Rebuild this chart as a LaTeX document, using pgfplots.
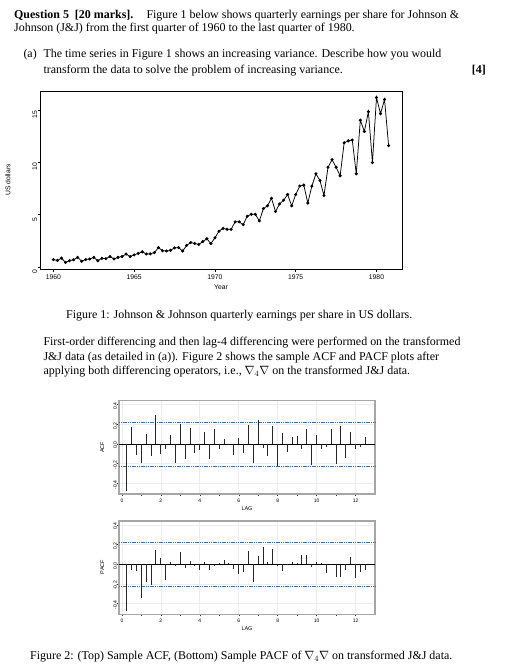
\documentclass[border=0pt]{standalone}
\usepackage{fontspec}
\setmainfont{Liberation Serif}
\newfontfamily\rsans{Liberation Sans}
\usepackage{pgfplots}
\usepackage{pgfplotstable}
\pgfplotsset{compat=1.18}
\definecolor{ciblue}{RGB}{40,110,215}

\pgfplotstableread{
t y
1960.00 0.71
1960.25 0.63
1960.50 0.85
1960.75 0.44
1961.00 0.61
1961.25 0.69
1961.50 0.92
1961.75 0.55
1962.00 0.72
1962.25 0.77
1962.50 0.92
1962.75 0.60
1963.00 0.83
1963.25 0.80
1963.50 1.00
1963.75 0.77
1964.00 0.92
1964.25 1.00
1964.50 1.24
1964.75 1.00
1965.00 1.16
1965.25 1.30
1965.50 1.45
1965.75 1.25
1966.00 1.26
1966.25 1.38
1966.50 1.86
1966.75 1.56
1967.00 1.53
1967.25 1.59
1967.50 1.83
1967.75 1.86
1968.00 1.53
1968.25 2.07
1968.50 2.34
1968.75 2.25
1969.00 2.16
1969.25 2.43
1969.50 2.70
1969.75 2.25
1970.00 2.79
1970.25 3.42
1970.50 3.69
1970.75 3.60
1971.00 3.60
1971.25 4.32
1971.50 4.32
1971.75 4.05
1972.00 4.86
1972.25 5.04
1972.50 5.04
1972.75 4.41
1973.00 5.58
1973.25 5.85
1973.50 6.57
1973.75 5.31
1974.00 6.03
1974.25 6.39
1974.50 6.93
1974.75 5.85
1975.00 6.93
1975.25 7.74
1975.50 7.83
1975.75 6.12
1976.00 7.74
1976.25 8.91
1976.50 8.28
1976.75 6.84
1977.00 9.54
1977.25 10.26
1977.50 9.54
1977.75 8.73
1978.00 11.88
1978.25 12.06
1978.50 12.15
1978.75 8.91
1979.00 14.04
1979.25 12.96
1979.50 14.85
1979.75 9.99
1980.00 16.20
1980.25 14.67
1980.50 16.02
1980.75 11.61
}\jjdata

\pgfplotstableread{
lag acf pacf
0.25 -0.475 -0.473
0.50 0.168 -0.060
0.75 -0.116 -0.073
1.00 -0.195 -0.340
1.25 0.100 -0.183
1.50 -0.126 -0.210
1.75 0.294 0.140
2.00 -0.106 0.067
2.25 -0.054 -0.157
2.50 0.092 0.020
2.75 -0.190 -0.023
3.00 0.199 0.127
3.25 -0.150 -0.040
3.50 0.161 0.030
3.75 -0.096 -0.020
4.00 -0.064 -0.057
4.25 0.117 0.020
4.50 -0.150 -0.057
4.75 0.154 -0.023
5.00 -0.055 0.013
5.25 0.048 0.043
5.50 -0.010 0.013
5.75 -0.110 -0.050
6.00 0.060 -0.100
6.25 -0.095 -0.077
6.50 0.190 0.130
6.75 -0.195 -0.180
7.00 0.240 0.088
7.25 -0.040 0.178
7.50 -0.120 0.020
7.75 0.180 0.158
8.00 -0.228 -0.017
8.25 0.108 -0.068
8.50 -0.080 -0.010
8.75 0.073 0.020
9.00 0.077 0.013
9.25 -0.055 0.095
9.50 0.148 0.095
9.75 -0.212 -0.026
10.00 0.086 0.018
10.25 -0.055 0.010
10.50 -0.030 -0.086
10.75 0.150 -0.005
11.00 -0.205 -0.135
11.25 0.185 -0.128
11.50 -0.140 -0.060
11.75 0.120 0.074
12.00 -0.055 -0.145
12.25 -0.034 -0.076
12.50 0.072 -0.060
}\acfdata

\pgfplotsset{
  acfstyle/.style={
    scale only axis, width=256pt, height=93.3pt, anchor=south west,
    xmin=-0.15, xmax=13, ymin=-0.51, ymax=0.44,
    axis line style={gray!70, line width=1.2pt},
    grid=major, grid style={gray!14, line width=0.7pt},
    xtick={0,2,...,12}, minor xtick={1,3,...,11},
    ytick={-0.4,-0.2,0,0.2,0.4},
    yticklabels={-0.4,-0.2,0.0,0.2,0.4},
    tick align=outside, major tick length=2pt, minor tick length=1.5pt,
    tick style={black!80, line width=0.45pt},
    xtick pos=bottom, ytick pos=left,
    /pgf/number format/assume math mode=true,
    tick label style={font=\rsans\fontsize{5}{5.5}\selectfont, text=black},
    xticklabel style={inner sep=0pt, yshift=-2.5pt},
    yticklabel style={rotate=90, anchor=south, inner sep=0pt, xshift=-1.5pt},
    clip=false,
  }
}

\begin{document}
\begin{tikzpicture}[x=1pt,y=1pt]
\useasboundingbox[fill=white] (0pt,0pt) rectangle (512pt,-669pt);

% ---------- text ----------
\begin{scope}[every node/.style={inner sep=0pt, font=\fontsize{11.95}{14}\selectfont}]
\node[anchor=base west] at (14pt,-18.5pt) {\textbf{Question 5\ \ [20 marks].}\hspace{1.1em}Figure 1 below shows quarterly earnings per share for Johnson \&};
\node[anchor=base west] at (14pt,-31.8pt) {Johnson (J\&J) from the first quarter of 1960 to the last quarter of 1980.};
\node[anchor=base west] at (23.3pt,-57.5pt) {(a)};
\node[anchor=base west] at (43.3pt,-57.5pt) {The time series in Figure 1 shows an increasing variance. Describe how you would};
\node[anchor=base west] at (43.3pt,-73.5pt) {transform the data to solve the problem of increasing variance.};
\node[anchor=base east] at (486pt,-73.5pt) {\textbf{[4]}};
\node[anchor=base west] at (66pt,-318.5pt) {Figure 1: Johnson \& Johnson quarterly earnings per share in US dollars.};
\node[anchor=base west] at (43.3pt,-345.8pt) {First-order differencing and then lag-4 differencing were performed on the transformed};
\node[anchor=base west] at (43.3pt,-360.2pt) {J\&J data (as detailed in (a)). Figure 2 shows the sample ACF and PACF plots after};
\node[anchor=base west] at (43.3pt,-374.2pt) {applying both differencing operators, i.e., $\nabla_4\nabla$ on the transformed J\&J data.};
\node[anchor=base west] at (30pt,-659.5pt) {Figure 2: (Top) Sample ACF, (Bottom) Sample PACF of $\nabla_4\nabla$ on transformed J\&J data.};
\end{scope}

% ---------- Figure 1 ----------
\begin{axis}[
  at={(40pt,-269pt)}, anchor=south west, scale only axis,
  width=362pt, height=178pt,
  xmin=1959.17, xmax=1981.58, ymin=-0.19, ymax=16.83,
  axis line style={black, line width=0.9pt},
  tick align=outside, major tick length=2.5pt,
  tick style={black, line width=0.5pt},
  xtick pos=bottom, ytick pos=left,
  xtick={1960,1965,...,1980}, ytick={0,5,10,15},
  /pgf/number format/assume math mode=true,
  x tick label style={/pgf/number format/1000 sep={}},
  tick label style={font=\rsans\fontsize{6.8}{7.5}\selectfont},
  xticklabel style={inner sep=0pt, yshift=-3pt},
  yticklabel style={rotate=90, anchor=south, inner sep=0pt, xshift=-4.5pt},
  clip=false,
]
\addplot[black, line width=0.75pt, mark=*, mark size=1.15pt] table[x=t,y=y] {\jjdata};
\end{axis}
\node[font=\rsans\fontsize{6.8}{7.5}\selectfont] at (221pt,-287.3pt) {Year};
\node[font=\rsans\fontsize{6.8}{7.5}\selectfont, rotate=90] at (8pt,-180pt) {US dollars};

% ---------- ACF ----------
\begin{axis}[acfstyle, at={(119pt,-494pt)}]
\addplot[black, line width=0.5pt] coordinates {(-0.15,0) (13,0)};
\addplot[ciblue, line width=0.6pt, dash pattern=on 1.2pt off 0.6pt] coordinates {(-0.15,0.225) (13,0.225)};
\addplot[ciblue, line width=0.6pt, dash pattern=on 1.2pt off 0.6pt] coordinates {(-0.15,-0.225) (13,-0.225)};
\addplot[ycomb, black!85, line width=1pt] table[x=lag,y=acf] {\acfdata};
\end{axis}
\node[font=\rsans\fontsize{5.5}{6}\selectfont, rotate=90] at (102.3pt,-447.3pt) {ACF};
\node[font=\rsans\fontsize{5.5}{6}\selectfont] at (247pt,-508.3pt) {LAG};

% ---------- PACF ----------
\begin{axis}[acfstyle, at={(119pt,-614.3pt)}]
\addplot[black, line width=0.5pt] coordinates {(-0.15,0) (13,0)};
\addplot[ciblue, line width=0.6pt, dash pattern=on 1.2pt off 0.6pt] coordinates {(-0.15,0.225) (13,0.225)};
\addplot[ciblue, line width=0.6pt, dash pattern=on 1.2pt off 0.6pt] coordinates {(-0.15,-0.225) (13,-0.225)};
\addplot[ycomb, black!85, line width=1pt] table[x=lag,y=pacf] {\acfdata};
\end{axis}
\node[font=\rsans\fontsize{5.5}{6}\selectfont, rotate=90] at (102.3pt,-567pt) {PACF};
\node[font=\rsans\fontsize{5.5}{6}\selectfont] at (247pt,-628.7pt) {LAG};
\end{tikzpicture}
\end{document}
